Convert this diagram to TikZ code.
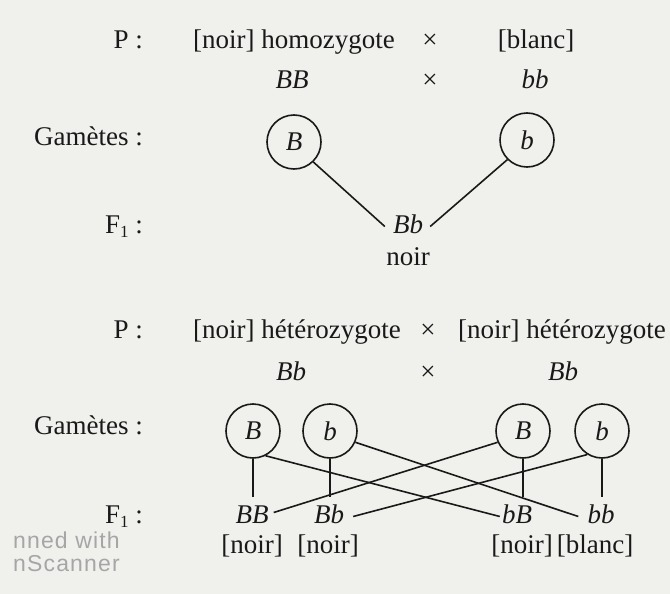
\documentclass[tikz,border=0pt]{standalone}
\usepackage{fontspec}
\setmainfont{Liberation Serif}
\newfontfamily\wmfont[LetterSpace=5]{Liberation Sans}
\definecolor{paper}{RGB}{240,240,237}
\definecolor{ink}{RGB}{25,25,25}
\begin{document}
\begin{tikzpicture}[x=1pt,y=-1pt,
  txt/.style={inner sep=0pt, text=ink, text height=0.66em, text depth=0pt, font=\fontsize{27}{32}\selectfont},
  lab/.style={txt, anchor=east},
  geno/.style={txt, font=\fontsize{27}{32}\selectfont\itshape},
  gam/.style={circle, draw=ink, line width=1.6pt, minimum size=54pt, inner sep=0pt, text=ink, font=\fontsize{27}{32}\selectfont\itshape},
  link/.style={draw=ink, line width=1.6pt},
  wm/.style={inner sep=0pt, anchor=west, text=gray!70, text height=0.72em, text depth=0pt, font=\wmfont\fontsize{23}{26}\selectfont}]
\useasboundingbox[fill=paper] (0,0) rectangle (670,594);

% ---------- first cross ----------
\node[lab] (p1) at (143,45) {P :};
\node[txt, anchor=west] (par1a) at (193,45) {[noir] homozygote};
\node[txt] (x1a) at (430,45) {×};
\node[txt] (par1b) at (536,45) {[blanc]};
\node[geno] (g1a) at (292,85) {BB};
\node[txt] (x1b) at (430,85) {×};
\node[geno] (g1b) at (535,85) {bb};
\node[lab] (gam1) at (143,142) {Gamètes :};
\node[gam] (c1B) at (294,142) {B};
\node[gam] (c1b) at (527,140) {b};
\node[lab] (f1) at (143,230) {F\raisebox{-0.35ex}{\fontsize{17}{17}\selectfont 1} :};
\node[geno] (o1) at (408,230) {Bb};
\node[txt] (o1p) at (408,262) {noir};
\draw[link] (c1B.-46) -- ([xshift=-8pt]o1.north west);
\draw[link] (c1b.-135) -- ([xshift=7pt]o1.north east);

% ---------- second cross ----------
\node[lab] (p2) at (143,335) {P :};
\node[txt, anchor=west] (par2a) at (193,335) {[noir] hétérozygote};
\node[txt] (x2a) at (428,335) {×};
\node[txt, anchor=west] (par2b) at (458,335) {[noir] hétérozygote};
\node[geno] (g2a) at (291,377) {Bb};
\node[txt] (x2b) at (428,377) {×};
\node[geno] (g2b) at (563,377) {Bb};
\node[lab] (gam2) at (143,431) {Gamètes :};
\node[gam] (c2B) at (253,431) {B};
\node[gam] (c2b) at (330,431) {b};
\node[gam] (c3B) at (523,431) {B};
\node[gam] (c3b) at (602,431) {b};
\node[lab] (f2) at (143,520) {F\raisebox{-0.35ex}{\fontsize{17}{17}\selectfont 1} :};
\node[geno] (oBB) at (252,520) {BB};
\node[geno] (oBb) at (329,520) {Bb};
\node[geno] (obB) at (517,520) {bB};
\node[geno] (obb) at (601,520) {bb};
\node[txt] (pBB) at (252,550) {[noir]};
\node[txt] (pBb) at (328,550) {[noir]};
\node[txt] (pbB) at (522,550) {[noir]};
\node[txt] (pbb) at (595,550) {[blanc]};

\coordinate (v1) at (253,497);
\coordinate (v2) at (330,497);
\coordinate (v3) at (523,497);
\coordinate (v4) at (602,497);
\draw[link] (c2B.south) -- (v1);
\draw[link] (c2b.south) -- (v2);
\draw[link] (c3B.south) -- (v3);
\draw[link] (c3b.south) -- (v4);

\draw[link] (c2B.-63) -- ([xshift=-2pt]obB.north west);
\draw[link] (c2b.-24) -- ([xshift=-9pt]obb.north west);
\draw[link] (c3B.-156) -- ([xshift=5pt,yshift=4pt]oBB.north east);
\draw[link] (c3b.-122) -- ([xshift=9pt]oBb.north east);

% watermark
\node[wm] (wm1) at (13,545) {nned with};
\node[wm] (wm2) at (13,568) {nScanner};
\end{tikzpicture}
\end{document}
